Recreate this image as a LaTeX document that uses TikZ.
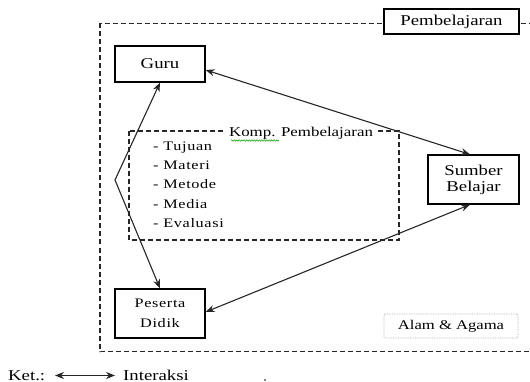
\documentclass[tikz,border=0pt]{standalone}
\usepackage{fontspec}
\setmainfont{Liberation Serif}[FakeStretch=1.25]
\newfontfamily\spacedfont{Liberation Serif}[FakeStretch=1.25,LetterSpace=5]
\usetikzlibrary{arrows.meta,decorations.pathmorphing}
\begin{document}
\begin{tikzpicture}[x=1pt,y=-1pt,
  box/.style={draw=black,line width=1.2pt,fill=white,minimum width=90pt,inner sep=0pt,font=\fontsize{15}{18}\selectfont,align=center},
  dbox/.style={draw=black!85,line width=1.1pt,dash pattern=on 5pt off 3pt},
  arr/.style={line width=1.1pt,draw=black!85,{Stealth[length=9pt,width=7pt]}-{Stealth[length=9pt,width=7pt]}},
  item/.style={anchor=base west,inner sep=0pt,font=\fontsize{13}{16}\spacedfont},
  lbl/.style={inner sep=0pt,font=\fontsize{15}{18}\selectfont}]
\useasboundingbox (0,0) rectangle (530,382);
\begin{scope}
\clip (0,0) rectangle (530,382);
% outer dashed frame
\draw[dbox] (100,23.5) rectangle (545,351.5);
\end{scope}
% inner dashed frame
\draw[dbox] (129,131) rectangle (399,240);
\node[fill=white,inner xsep=4pt,inner ysep=3pt,font=\fontsize{13.5}{16}\selectfont] (komp) at (301,133) {Komp. Pembelajaran};
\draw[green!60!black,line width=0.5pt,decorate,decoration={snake,segment length=2.5pt,amplitude=0.7pt}] (231,140.5) -- (279,140.5);
% boxes
\node[box,minimum width=135pt,minimum height=25pt] (pemb) at (451.5,21.5) {Pembelajaran};
\node[box,minimum width=90pt,minimum height=36pt] (guru) at (160,64) {Guru};
\node[box,minimum width=91pt,minimum height=49pt] (sumber) at (473.5,179.5) {Sumber\\[-2pt]Belajar};
\node[box,minimum width=90pt,minimum height=49pt,font=\fontsize{13}{20}\spacedfont] (peserta) at (160,313.5) {Peserta\\Didik};
\node[draw=black!35,densely dotted,line width=0.7pt,rounded corners=1pt,minimum width=134pt,minimum height=24pt,inner sep=0pt,font=\fontsize{13.3}{16}\selectfont] (alam) at (451,326) {Alam \& Agama};
% list
\foreach \t/\y [count=\i] in {Tujuan/151,Materi/170,Metode/189,Media/208,Evaluasi/227}
  \node[item] (item\i) at (153,\y) {- \t};
% connectors
\coordinate (bend) at (115,180);
\draw[arr] ([yshift=-6pt]guru.east) -- ([xshift=-3.5pt]sumber.north);
\draw[arr] ([xshift=-3.5pt]sumber.south) -- ([yshift=1.5pt]peserta.east);
\draw[arr] (guru.south) -- (bend) -- (peserta.north);
% legend
\node[lbl,anchor=base west] (ket) at (8,380) {Ket.:};
\node[lbl,anchor=base west] (inter) at (123,380) {Interaksi};
\coordinate (la) at (55,375.5);
\coordinate (lb) at (115,375.5);
\draw[arr] (la) -- (lb);
\fill[black] (265,380) circle (0.9pt) coordinate (dot);
\end{tikzpicture}
\end{document}
